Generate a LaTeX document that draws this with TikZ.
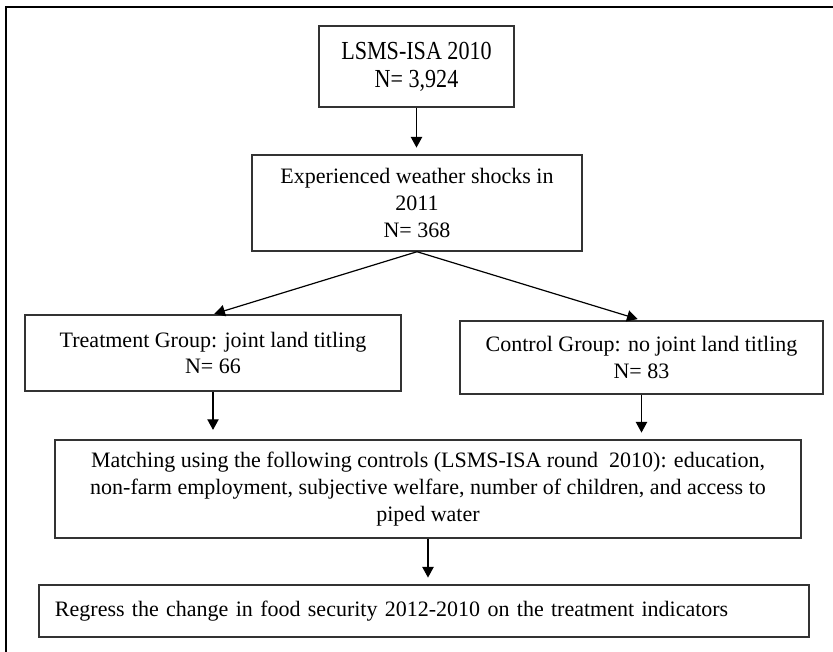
\documentclass[tikz,border=0pt]{standalone}
\usepackage{fontspec}
\setmainfont{Liberation Serif}
\newfontfamily\narrowserif[FakeStretch=0.85]{Liberation Serif}
\usepackage{tikz}
\usetikzlibrary{arrows.meta}

\begin{document}
\begin{tikzpicture}[x=0.75pt, y=-0.75pt,
        box/.style={draw=black!80, line width=1.1pt, align=center, inner sep=0pt,
            font=\fontsize{16.5}{20}\selectfont},
        flow/.style={-{Triangle[length=8pt, width=8.5pt]}, line width=0.9pt}]
    \useasboundingbox (0,0) rectangle (833,652);

    \draw[line width=1.6pt] (6,652) -- (6,7) -- (833,7); % frame

    \begin{scope} % Draw boxes
        \node[box, font=\narrowserif\fontsize{19.5}{21}\selectfont, minimum width=146.25pt, minimum height=60.75pt] (lsms) at (416.5,66.5)
            {LSMS-ISA 2010\\N= 3,924};
        \node[box, minimum width=247.5pt, minimum height=72pt] (shock) at (417,203)
            {Experienced weather shocks in\\2011\\N= 368};
        \node[box, minimum width=282pt, minimum height=57pt] (treat) at (213,353)
            {Treatment Group: joint land titling\\N= 66};
        \node[box, minimum width=272.25pt, minimum height=54.75pt] (ctrl) at (641.5,357.5)
            {Control Group: no joint land titling\\N= 83};
        \node[box, minimum width=559.5pt, minimum height=73.5pt] (match) at (428,489)
            {Matching using the following controls (LSMS-ISA round \ 2010): education,\\
             non-farm employment, subjective welfare, number of children, and access to\\
             piped water};
        \node[box, align=left, text width=553.5pt, inner xsep=12pt, minimum height=39pt] (regress) at (424,611)
            {Regress the change in food security 2012-2010 on the treatment indicators};
    \end{scope}

    \begin{scope} % Draw arrows
        \draw[flow, shorten >=5pt] (lsms.south) -- (lsms.south |- shock.north);
        \draw[flow, shorten >=1pt] (shock.south) -- (treat.north);
        \draw[flow, shorten >=3pt] (shock.south) -- (ctrl.north);
        \draw[flow, shorten >=7pt] (treat.south) -- (treat.south |- match.north);
        \draw[flow, shorten >=5pt] (ctrl.south) -- (ctrl.south |- match.north);
        \draw[flow, shorten >=5pt] (match.south) -- (match.south |- regress.north);
    \end{scope}
\end{tikzpicture}
\end{document}
